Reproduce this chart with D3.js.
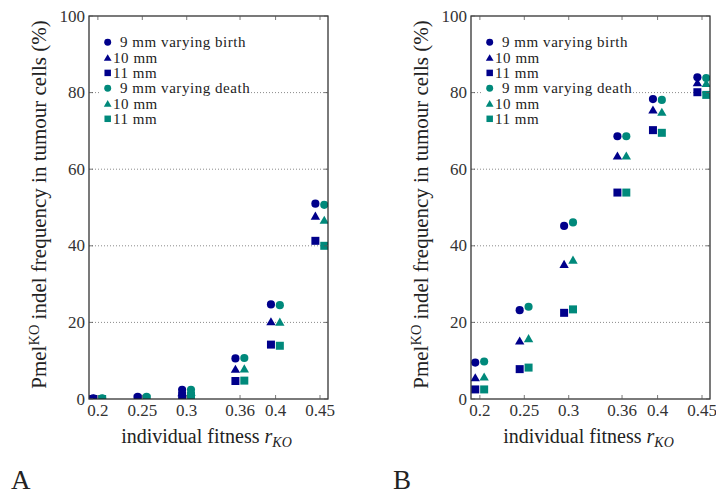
<!DOCTYPE html>
<html>
<head>
<meta charset="utf-8">
<script src="https://cdn.jsdelivr.net/npm/d3@7"></script>
<style>
  html, body { margin: 0; padding: 0; background: #fff; }
  svg, svg text { font-family: "Liberation Serif", "DejaVu Serif", serif; }
</style>
</head>
<body>
<svg id="chart" width="716" height="496"></svg>
<script>
// fitness values on the x axis
const fitness = [0.2, 0.25, 0.3, 0.36, 0.4, 0.45];
const fitnessLabels = ["0.2", "0.25", "0.3", "0.36", "0.4", "0.45"];
const yTicks = [0, 20, 40, 60, 80, 100];

// Panel A: indel frequency (%) per tumour size
const aBirth9  = [0.2, 0.6, 2.4, 10.6, 24.7, 51.0];
const aBirth10 = [0.1, 0.3, 1.7, 7.8, 20.2, 47.8];
const aBirth11 = [0.0, 0.1, 0.9, 4.7, 14.2, 41.3];
const aDeath9  = [0.2, 0.6, 2.4, 10.7, 24.5, 50.7];
const aDeath10 = [0.1, 0.3, 1.8, 7.9, 20.1, 46.7];
const aDeath11 = [0.0, 0.1, 0.9, 4.8, 13.9, 40.0];

// Panel B
const bBirth9  = [9.5, 23.2, 45.2, 68.6, 78.3, 84.0];
const bBirth10 = [5.6, 15.2, 35.2, 63.5, 75.5, 82.6];
const bBirth11 = [2.5, 7.8, 22.5, 53.9, 70.2, 80.1];
const bDeath9  = [9.8, 24.1, 46.1, 68.6, 78.1, 83.8];
const bDeath10 = [5.8, 15.8, 36.3, 63.5, 74.9, 82.4];
const bDeath11 = [2.5, 8.2, 23.4, 53.9, 69.5, 79.4];

const legendLabels = ["9 mm varying birth", "10 mm", "11 mm",
                      "9 mm varying death", "10 mm", "11 mm"];

const NAVY = "#00008b";
const TEAL = "#00897b";
const FONT = "Liberation Serif";

const svg = d3.select("#chart").attr("font-family", FONT);

function drawPanel(opts) {
  const { left, top, width, height, series, letter, id } = opts;
  const g = svg.append("g").attr("transform", `translate(${left},${top})`);

  const x = d3.scaleLinear().domain([0.19, 0.459]).range([0, width]);
  const y = d3.scaleLinear().domain([0, 100]).range([height, 0]);

  // dotted horizontal grid
  g.append("g").selectAll("line")
    .data(yTicks.filter(t => t > 0 && t < 100))
    .join("line")
    .attr("x1", 0).attr("x2", width)
    .attr("y1", d => y(d)).attr("y2", d => y(d))
    .attr("stroke", "#8a8a8a").attr("stroke-width", 1)
    .attr("stroke-dasharray", "1,2");

  // clip markers to the plotting area
  g.append("clipPath").attr("id", "clip" + id)
    .append("rect").attr("width", width).attr("height", height);

  const marks = g.append("g").attr("clip-path", `url(#clip${id})`);
  const shapeOf = { circle: d3.symbolCircle, triangle: d3.symbolTriangle, square: d3.symbolSquare };
  const sizeOf = { circle: 52, triangle: 38, square: 64 };

  series.forEach(s => {
    const sym = d3.symbol().type(shapeOf[s.shape]).size(sizeOf[s.shape]);
    marks.append("g").selectAll("path")
      .data(s.values.map((v, i) => ({ xv: fitness[i] + s.dx, v })))
      .join("path")
      .attr("d", sym)
      .attr("transform", d => `translate(${x(d.xv)},${y(d.v) + (s.shape === "triangle" ? 1 : 0)})`)
      .attr("fill", s.color);
  });

  // legend
  const lg = g.append("g").attr("transform", "translate(10,14)");
  lg.append("rect").attr("x", 0).attr("y", 0).attr("width", 152).attr("height", 98).attr("fill", "#fff");
  series.forEach((s, i) => {
    const ry = 12.3 + i * 15.3;
    lg.append("path")
      .attr("d", d3.symbol().type(shapeOf[s.shape]).size(s.shape === "triangle" ? 26 : (s.shape === "square" ? 42 : 38))())
      .attr("transform", `translate(8.7,${ry + (s.shape === "triangle" ? 1 : 0)})`)
      .attr("fill", s.color);
    // the 9 mm rows are indented by one digit width so the numbers line up
    lg.append("text")
      .attr("x", s.shape === "circle" ? 21 : 14).attr("y", ry + 5)
      .attr("font-family", FONT)
      .attr("font-size", 15).attr("letter-spacing", 0.55).attr("fill", "#222")
      .text(legendLabels[i]);
  });

  // frame
  g.append("rect").attr("width", width).attr("height", height)
    .attr("fill", "none").attr("stroke", "#222").attr("stroke-width", 1.2);

  // inward ticks on all four sides
  const tickLen = 4;
  const tk = g.append("g").attr("stroke", "#555").attr("stroke-width", 0.8);
  fitness.forEach(v => {
    tk.append("line").attr("x1", x(v)).attr("x2", x(v)).attr("y1", height).attr("y2", height - tickLen);
    tk.append("line").attr("x1", x(v)).attr("x2", x(v)).attr("y1", 0).attr("y2", tickLen);
  });
  yTicks.forEach(v => {
    tk.append("line").attr("x1", 0).attr("x2", tickLen).attr("y1", y(v)).attr("y2", y(v));
    tk.append("line").attr("x1", width).attr("x2", width - tickLen).attr("y1", y(v)).attr("y2", y(v));
  });

  // tick labels
  g.append("g").selectAll("text").data(fitness).join("text")
    .attr("x", d => x(d)).attr("y", height + 17)
    .attr("font-family", FONT)
    .attr("text-anchor", "middle").attr("font-size", 17).attr("fill", "#333")
    .text((d, i) => fitnessLabels[i]);
  g.append("g").selectAll("text").data(yTicks).join("text")
    .attr("x", -4).attr("y", d => y(d) + 5.5)
    .attr("font-family", FONT)
    .attr("text-anchor", "end").attr("font-size", 17).attr("fill", "#333")
    .text(d => d);

  // axis titles
  const xt = g.append("text")
    .attr("x", width / 2 - 2).attr("y", height + 44)
    .attr("font-family", FONT)
    .attr("text-anchor", "middle").attr("font-size", 20).attr("fill", "#222");
  xt.append("tspan").text("individual fitness ");
  xt.append("tspan").attr("font-style", "italic").text("r");
  xt.append("tspan").attr("font-style", "italic").attr("font-size", 14).attr("dy", 4).text("KO");

  const yt = g.append("text")
    .attr("transform", `translate(-43,${height / 2 - 3}) rotate(-90)`)
    .attr("font-family", FONT)
    .attr("text-anchor", "middle").attr("font-size", 21).attr("fill", "#222");
  yt.append("tspan").text("Pmel");
  yt.append("tspan").attr("font-size", 14.5).attr("dy", -7).text("KO");
  yt.append("tspan").attr("dy", 7).text(" indel frequency in tumour cells (%)");

  // panel letter
  svg.append("text")
    .attr("x", left - 78).attr("y", 489)
    .attr("font-family", FONT)
    .attr("font-size", 27).attr("fill", "#222")
    .text(letter);
}

function makeSeries(b9, b10, b11, d9, d10, d11) {
  return [
    { values: b9,  shape: "circle",   color: NAVY, dx: -0.0052 },
    { values: b10, shape: "triangle", color: NAVY, dx: -0.0052 },
    { values: b11, shape: "square",   color: NAVY, dx: -0.0052 },
    { values: d9,  shape: "circle",   color: TEAL, dx: 0.0048 },
    { values: d10, shape: "triangle", color: TEAL, dx: 0.0048 },
    { values: d11, shape: "square",   color: TEAL, dx: 0.0048 }
  ];
}

drawPanel({ id: "A", left: 89, top: 16, width: 239, height: 383, letter: "A",
  series: makeSeries(aBirth9, aBirth10, aBirth11, aDeath9, aDeath10, aDeath11) });
drawPanel({ id: "B", left: 471, top: 16, width: 239, height: 383, letter: "B",
  series: makeSeries(bBirth9, bBirth10, bBirth11, bDeath9, bDeath10, bDeath11) });
</script>
</body>
</html>
